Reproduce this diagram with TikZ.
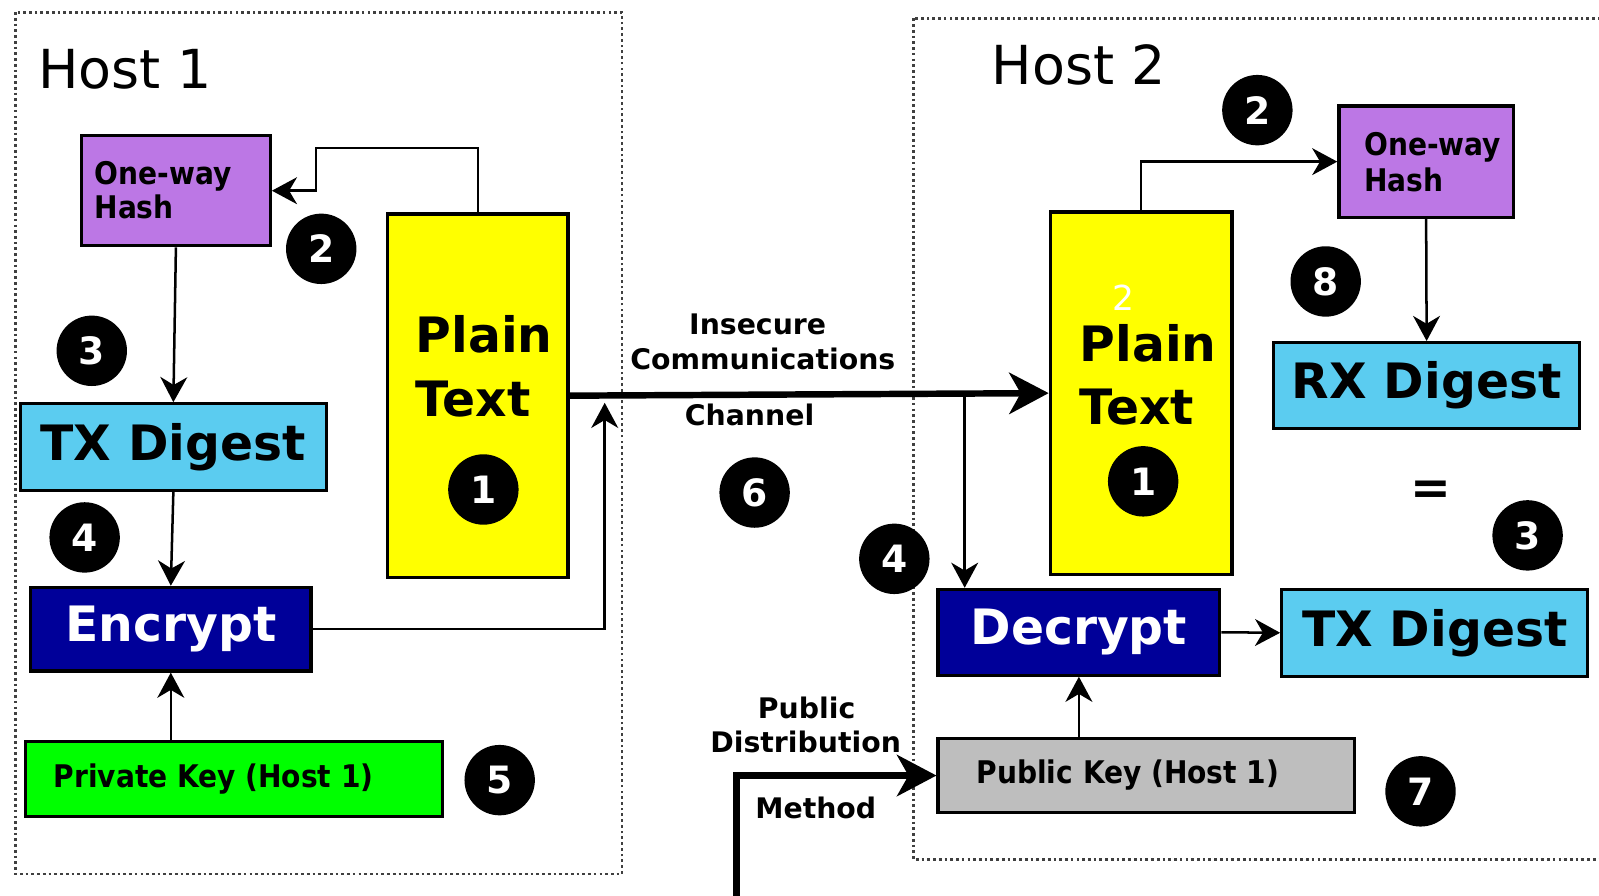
\documentclass[tikz,border=0pt]{standalone}
\usepackage{fontspec}
\setmainfont{DejaVu Sans}
\newfontfamily\narrowfont[FakeStretch=0.9]{DejaVu Sans}
\usetikzlibrary{arrows.meta}
\definecolor{hashpurple}{HTML}{BC77E5}
\definecolor{digestblue}{HTML}{5BCCF0}
\definecolor{cryptblue}{HTML}{000099}
\definecolor{keygreen}{HTML}{00FF00}
\definecolor{keygrey}{HTML}{BEBEBE}
\definecolor{plainyellow}{HTML}{FFFF00}
\definecolor{borderdots}{HTML}{404040}

\begin{document}
\begin{tikzpicture}[x=0.01cm, y=-0.01cm,
  box/.style={draw=black, line width=0.9pt, inner sep=0pt, rectangle},
  bigtxt/.style={font=\fontsize{13.6}{16}\selectfont\bfseries},
  smalltxt/.style={font=\narrowfont\fontsize{8.7}{10}\selectfont\bfseries, anchor=base west, inner sep=0pt},
  chantxt/.style={font=\fontsize{7.9}{9}\selectfont\bfseries, inner sep=0pt},
  hosttxt/.style={font=\fontsize{15}{18}\selectfont, anchor=base west, inner sep=0pt},
  num/.style={circle, fill=black, text=white, minimum size=0.69cm, inner sep=0pt,
              font=\fontsize{10.5}{12}\selectfont\bfseries},
  conn/.style={line width=0.7pt, -{Stealth[length=7pt, width=7.5pt, inset=2.2pt]}},
  trunk/.style={line width=1.8pt, -{Stealth[length=11pt, width=11.5pt, inset=3.2pt]}},
  hostframe/.style={draw=borderdots, line width=0.8pt, dash pattern=on 0.75pt off 0.85pt},
]
\useasboundingbox (0,0) rectangle (1568,878);
\clip (0,0) rectangle (1568,878);

% host frames
\draw[hostframe] (15,12) rectangle (610,857);
\draw[hostframe] (896,18) rectangle (1640,843);
\node[hosttxt] (host1) at (37,87) {Host 1};
\node[hosttxt] (host2) at (972,83) {Host 2};

% ---- sender side ----
\node[box, fill=hashpurple, minimum width=1.85cm, minimum height=1.08cm] (hash1) at (172.5,187) {};
\node[smalltxt] (hash1a) at (92,181) {One-way};
\node[smalltxt] (hash1b) at (92,214) {Hash};
\node[box, fill=plainyellow, minimum width=1.77cm, minimum height=3.56cm] (plain1) at (468.5,388) {};
\node[bigtxt, anchor=base west, inner sep=0pt] (plain1a) at (407,346) {Plain};
\node[bigtxt, anchor=base west, inner sep=0pt] (plain1b) at (407,408) {Text};
\node[box, bigtxt, fill=digestblue, minimum width=3.0cm, minimum height=0.85cm] (tx1) at (170,438.5) {TX Digest};
\node[box, bigtxt, fill=cryptblue, text=white, minimum width=2.75cm, minimum height=0.82cm] (enc) at (167.5,617) {Encrypt};
\node[box, fill=keygreen, minimum width=4.09cm, minimum height=0.74cm] (priv) at (229.5,764) {};
\node[smalltxt] (privtxt) at (52,772) {Private Key (Host 1)};

% ---- receiver side ----
\node[box, fill=plainyellow, minimum width=1.78cm, minimum height=3.55cm] (plain2) at (1119,385.5) {};
\node[bigtxt, anchor=base west, inner sep=0pt] (plain2a) at (1058,354) {Plain};
\node[bigtxt, anchor=base west, inner sep=0pt] (plain2b) at (1058,416) {Text};
\node[font=\fontsize{9.6}{11}\selectfont, text=white, inner sep=0pt] (mark2) at (1102,292) {2};
\node[box, fill=hashpurple, minimum width=1.71cm, minimum height=1.09cm] (hash2) at (1398.5,158.5) {};
\node[smalltxt] (hash2a) at (1337,152) {One-way};
\node[smalltxt] (hash2b) at (1337,188) {Hash};
\node[box, bigtxt, fill=digestblue, minimum width=3.0cm, minimum height=0.84cm] (rx) at (1399,378) {RX Digest};
\node[bigtxt, inner sep=0pt] (eq) at (1403,483) {=};
\node[box, bigtxt, fill=digestblue, minimum width=3.0cm, minimum height=0.85cm] (tx2) at (1407,620.5) {TX Digest};
\node[box, bigtxt, fill=cryptblue, text=white, minimum width=2.76cm, minimum height=0.84cm] (dec) at (1058,620) {Decrypt};
\node[box, fill=keygrey, minimum width=4.08cm, minimum height=0.73cm] (pub) at (1124,760.5) {};
\node[smalltxt] (pubtxt) at (957,768) {Public Key (Host 1)};

% ---- channel labels ----
\node[chantxt] (ins) at (743,318) {Insecure};
\node[chantxt] (comm) at (748,352) {Communications};
\node[chantxt] (chan) at (735,407) {Channel};
\node[chantxt] (pubd) at (791,694) {Public};
\node[chantxt] (dist) at (790,728) {Distribution};
\node[chantxt] (meth) at (800,792) {Method};

% ---- connectors ----
\coordinate (bendA) at (310,145);
\draw[conn] (plain1.north) |- (bendA) |- (hash1.east);
\draw[conn] (hash1.south) -- (tx1.north);
\draw[conn] (tx1.south) -- (enc.north);
\draw[conn] (enc.south |- priv.north) -- (enc.south);
\coordinate (encUp) at (593,395);
\draw[conn] (enc.east) -| (encUp);
\draw[trunk] (plain1.east) -- (plain2.west);
\coordinate (tap) at (946,386.5);
\draw[conn] (tap) -- (tap |- dec.north);
\draw[conn] (plain2.north) |- (hash2.west);
\draw[conn] (hash2.south) -- (rx.north);
\draw[conn] (dec.east) -- (tx2.west);
\draw[conn] (dec.south |- pub.north) -- (dec.south);
\coordinate (pubSrc) at (722,900);
\draw[trunk] (pubSrc) |- (pub.west);

% ---- step markers ----
\node[num] (s1a) at (474,480) {1};
\node[num] (s2a) at (315,244) {2};
\node[num] (s3a) at (90,344) {3};
\node[num] (s4a) at (83,527) {4};
\node[num] (s5) at (490,765) {5};
\node[num] (s6) at (740,483) {6};
\node[num] (s4b) at (877,548) {4};
\node[num] (s2b) at (1233,108) {2};
\node[num] (s8) at (1300,276) {8};
\node[num] (s1b) at (1121,472) {1};
\node[num] (s3b) at (1498,525) {3};
\node[num] (s7) at (1393,776) {7};
\end{tikzpicture}
\end{document}
